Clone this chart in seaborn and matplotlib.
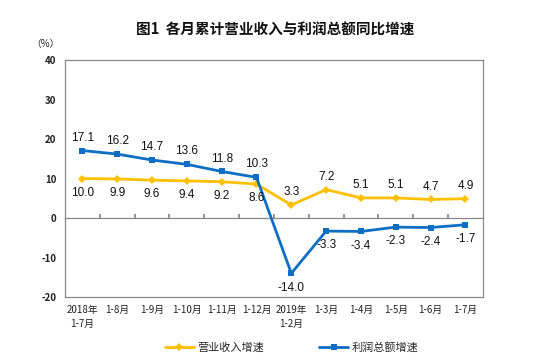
import matplotlib
matplotlib.use("Agg")
import matplotlib.pyplot as plt
import seaborn as sns
import pandas as pd
import numpy as np

categories = ["2018年\n1-7月", "1-8月", "1-9月", "1-10月", "1-11月", "1-12月",
              "2019年\n1-2月", "1-3月", "1-4月", "1-5月", "1-6月", "1-7月"]
revenue = [10.0, 9.9, 9.6, 9.4, 9.2, 8.6, 3.3, 7.2, 5.1, 5.1, 4.7, 4.9]
profit = [17.1, 16.2, 14.7, 13.6, 11.8, 10.3, -14.0, -3.3, -3.4, -2.3, -2.4, -1.7]
yticks = [40, 30, 20, 10, 0, -10, -20]

sns.set_theme(style="white")
plt.rcParams['font.family'] = ['Noto Sans CJK SC', 'DejaVu Sans']

YEL = "#FFC000"
BLU = "#0D6EC4"

df = pd.DataFrame({"x": np.arange(len(categories)), "rev": revenue, "pro": profit})

fig = plt.figure(figsize=(5.5, 3.6), dpi=100)
ax = fig.add_axes([0.118, 0.175, 0.760, 0.658])

sns.lineplot(data=df, x="x", y="rev", ax=ax, color=YEL, marker="D", markersize=4.5,
             markeredgewidth=0, linewidth=2, label="营业收入增速")
sns.lineplot(data=df, x="x", y="pro", ax=ax, color=BLU, marker="s", markersize=4.5,
             markeredgewidth=0, linewidth=2, label="利润总额增速")

ax.set_xlim(-0.5, len(categories) - 0.5)
ax.set_ylim(-20, 40)
ax.set_yticks(yticks)
ax.set_yticklabels([str(v) for v in yticks], fontsize=7, fontweight='bold', color="#222222")
ax.set_xticks(df["x"])
ax.set_xticklabels(categories, fontsize=7, color="#222222", linespacing=1.5)
ax.tick_params(axis='both', length=0, pad=6)
ax.set_xlabel("")
ax.set_ylabel("")
for s in ax.spines.values():
    s.set_color("#888888")
    s.set_linewidth(0.9)

# zero axis line with boundary ticks
sec = ax.secondary_xaxis(20 / 60)
sec.set_xticks(np.arange(0.5, len(categories) - 0.5, 1.0))
sec.tick_params(direction='in', length=3, color="#888888", labelbottom=False, labeltop=False)
sec.spines['bottom'].set_color("#888888")
sec.spines['bottom'].set_linewidth(0.9)

lab_font = dict(family=['Liberation Sans', 'DejaVu Sans'], size=8.5, color="#111111")
for i, (r, p) in enumerate(zip(revenue, profit)):
    if i < 6:
        ax.annotate(f"{r:.1f}", (i, r), xytext=(0, -6), textcoords="offset points",
                    ha="center", va="top", **lab_font)
        ax.annotate(f"{p:.1f}", (i, p), xytext=(0, 5), textcoords="offset points",
                    ha="center", va="bottom", **lab_font)
    else:
        ax.annotate(f"{r:.1f}", (i, r), xytext=(0, 5), textcoords="offset points",
                    ha="center", va="bottom", **lab_font)
        ax.annotate(f"{p:.1f}", (i, p), xytext=(0, -6), textcoords="offset points",
                    ha="center", va="top", **lab_font)

ax.legend_.remove()
h, l = ax.get_legend_handles_labels()
fig.legend(h, l, loc="center", bbox_to_anchor=(0.53, 0.034), ncol=2, frameon=False,
           fontsize=8, handlelength=2.6, columnspacing=5, handletextpad=0.3)

fig.text(0.5, 1 - 30 / 360, "图1  各月累计营业收入与利润总额同比增速", ha="center", va="center",
         fontsize=10.5, fontweight="bold", color="#111111")
fig.text(0.082, 1 - 44 / 360, "（%）", ha="center", va="center", fontsize=7, color="#222222")

fig.savefig("out.png", dpi=100)
